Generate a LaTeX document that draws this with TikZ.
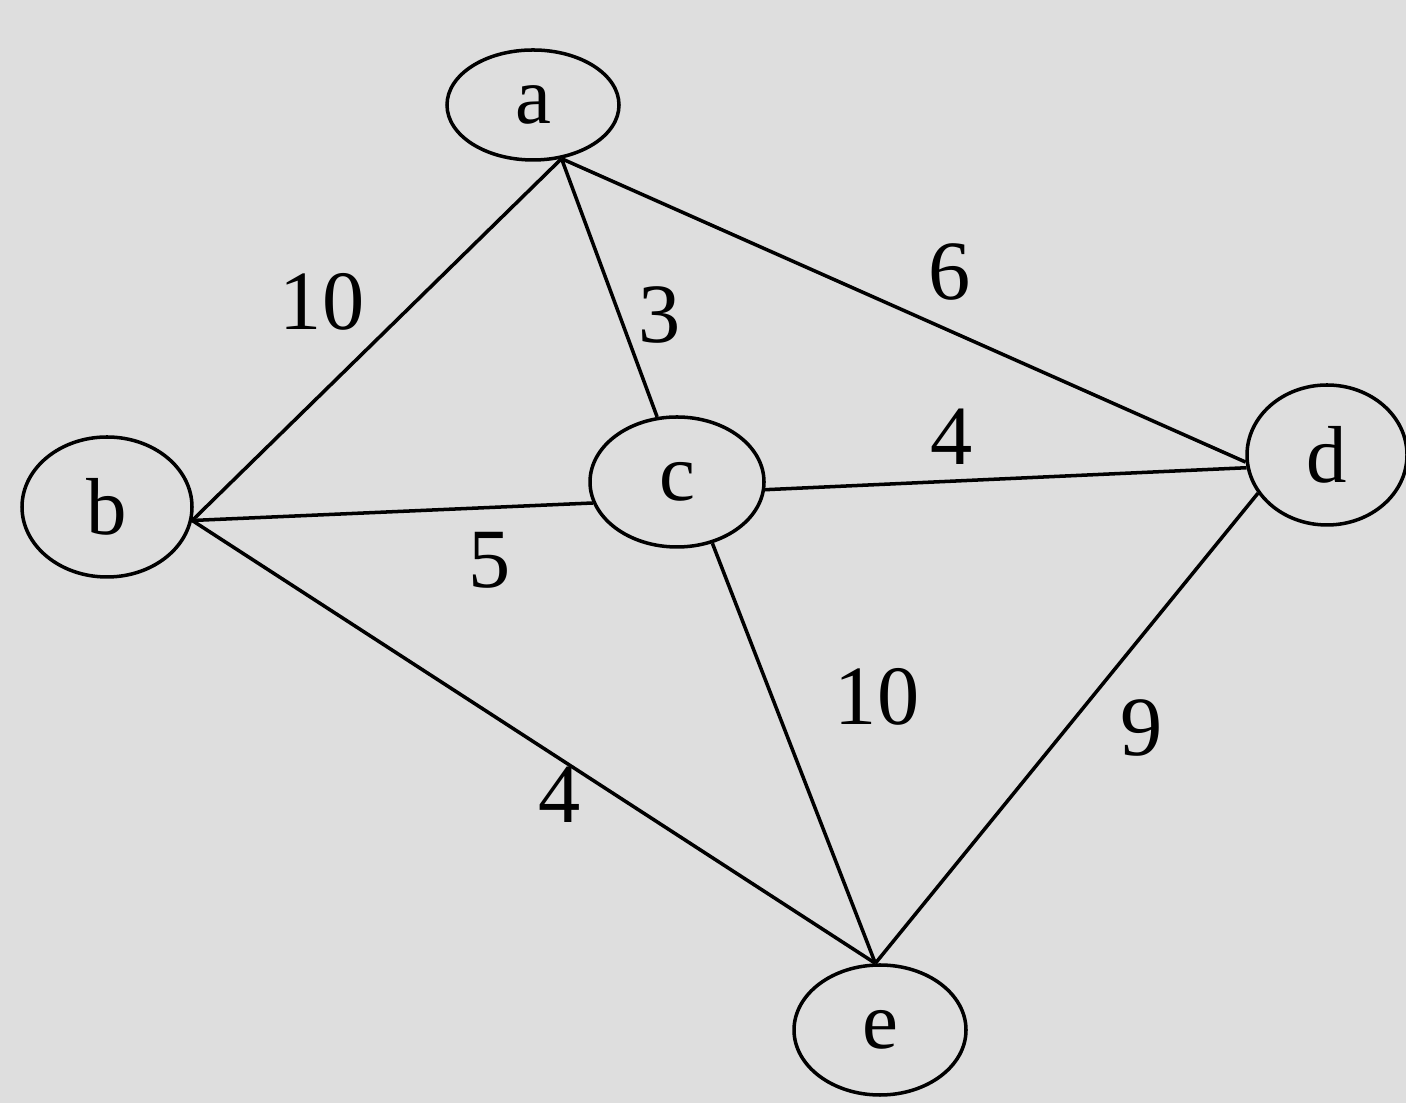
\documentclass[tikz,border=0pt]{standalone}
\usepackage{fontspec}
\setmainfont{Liberation Serif}
\usetikzlibrary{shapes}
\usetikzlibrary{shapes.geometric}

\begin{document}
\begin{tikzpicture}

      \tikzset{vertex/.style = {shape=ellipse,draw,line width=1pt,inner sep=0pt,minimum width=1.72cm,minimum height=1.3cm,font=\fontsize{23}{26}\selectfont}}
      \tikzset{edge/.style = {line width=1pt}}
      \tikzset{weight/.style = {font=\fontsize{24}{27}\selectfont,inner sep=0pt}}
      \fill[black!13] (0,0) rectangle (14.06,11.03);
      \useasboundingbox (0,0) rectangle (14.06,11.03);
      % vertices
      \node[vertex,minimum height=1.1cm] (a) at (5.33,9.98) {a};
      \node[vertex,minimum width=1.7cm,minimum height=1.4cm] (b) at (1.07,5.96) {b};
      \node[vertex,minimum width=1.74cm] (c) at (6.77,6.21) {c};
      \node[vertex,minimum width=1.6cm,minimum height=1.4cm] (d) at (13.27,6.48) {d};
      \node[vertex] (e) at (8.80,0.73) {e};
      %edges
      \draw[edge] (a.-62) -- (b.-9);
      \draw[edge] (a.-62) -- (c.107);
      \draw[edge] (a.-62) -- (d.185);
      \draw[edge] (b.-9) -- (c.194);
      \draw[edge] (b.-9) -- (e.94);
      \draw[edge] (c.-5) -- (d.189);
      \draw[edge] (c.-60) -- (e.94);
      \draw[edge] (d.209) -- (e.94);
      % weights
      \node[weight] (wab) at (3.22,8.01) {10};
      \node[weight] (wac) at (6.60,7.88) {3};
      \node[weight] (wad) at (9.50,8.31) {6};
      \node[weight] (wcd) at (9.52,6.66) {4};
      \node[weight] (wbc) at (4.90,5.43) {5};
      \node[weight] (wce) at (8.77,4.06) {10};
      \node[weight] (wde) at (11.42,3.75) {9};
      \node[weight] (wbe) at (5.60,3.08) {4};

\end{tikzpicture}
\end{document}
